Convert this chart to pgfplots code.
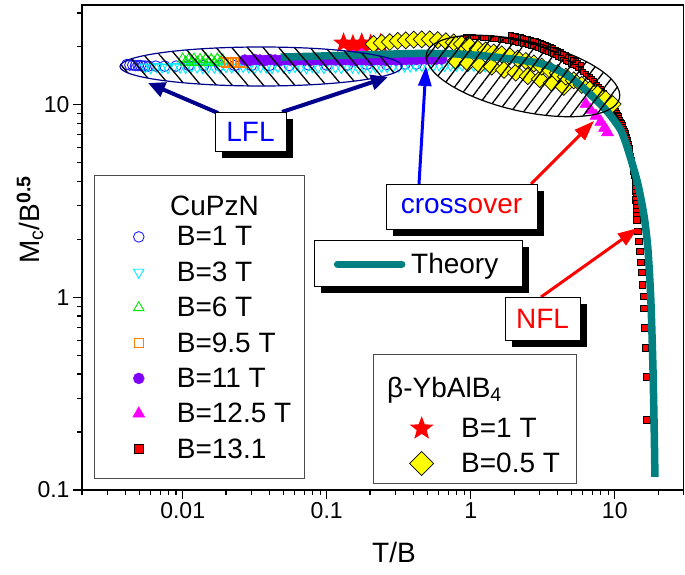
\documentclass[border=0pt]{standalone}
\usepackage{pgfplots}
\pgfplotsset{compat=1.18}
\usepackage{fontspec}
\setmainfont{Liberation Sans}
\usetikzlibrary{patterns.meta,arrows.meta}

\definecolor{thteal}{RGB}{0,128,128}
\definecolor{lflnavy}{RGB}{0,0,140}
\definecolor{cblue}{RGB}{30,30,255}
\definecolor{ccyan}{RGB}{0,235,255}
\definecolor{cgreen}{RGB}{0,230,0}
\definecolor{corange}{RGB}{255,128,0}
\definecolor{cpurple}{RGB}{128,0,255}
\definecolor{cmag}{RGB}{255,0,255}
\definecolor{cyel}{RGB}{255,255,0}

\pgfdeclareplotmark{fivestar}{%
  \pgfpathmoveto{\pgfpointpolar{90}{\pgfplotmarksize}}%
  \pgfpathlineto{\pgfpointpolar{126}{0.42\pgfplotmarksize}}%
  \pgfpathlineto{\pgfpointpolar{162}{\pgfplotmarksize}}%
  \pgfpathlineto{\pgfpointpolar{198}{0.42\pgfplotmarksize}}%
  \pgfpathlineto{\pgfpointpolar{234}{\pgfplotmarksize}}%
  \pgfpathlineto{\pgfpointpolar{270}{0.42\pgfplotmarksize}}%
  \pgfpathlineto{\pgfpointpolar{306}{\pgfplotmarksize}}%
  \pgfpathlineto{\pgfpointpolar{342}{0.42\pgfplotmarksize}}%
  \pgfpathlineto{\pgfpointpolar{18}{\pgfplotmarksize}}%
  \pgfpathlineto{\pgfpointpolar{54}{0.42\pgfplotmarksize}}%
  \pgfpathclose
  \pgfusepathqfill
}

\begin{document}
\begin{tikzpicture}
\begin{axis}[scale only axis, width=601.5pt, height=485pt,
  xmode=log, ymode=log, xmin=0.002, xmax=30, ymin=0.1, ymax=33,
  at={(0pt,0pt)}, anchor=south west,
  clip marker paths=true,
  axis line style={line width=1.3pt},
  tick style={line width=1.2pt, black},
  tick align=outside, tick pos=left,
  major tick length=9pt, minor tick length=5pt,
  xtick={0.01,0.1,1,10}, xticklabels={0.01,0.1,1,10},
  ytick={0.1,1,10}, yticklabels={0.1,1,10},
  minor xtick={0.002,0.003,0.004,0.005,0.006,0.007,0.008,0.009,0.02,0.03,0.04,0.05,0.06,0.07,0.08,0.09,0.2,0.3,0.4,0.5,0.6,0.7,0.8,0.9,2,3,4,5,6,7,8,9,20,30},
  minor ytick={0.2,0.3,0.4,0.5,0.6,0.7,0.8,0.9,2,3,4,5,6,7,8,9,20,30},
  ticklabel style={font=\fontsize{23}{26}\selectfont},
  xlabel={T/B}, ylabel={M\textsubscript{c}/B\textsuperscript{\textbf{0.5}}},
  label style={font=\fontsize{28}{32}\selectfont},
  xlabel style={at={(axis description cs:0.5187,-0.1278)}, anchor=center},
  ylabel style={at={(axis description cs:-0.0865,0.557)}, anchor=center},
  legend cell align=left,
  legend style={at={(0.0840,0.5478)}, anchor=north west, draw=none, fill=none,
    inner xsep=0pt, inner ysep=0pt, font=\fontsize{28}{33}\selectfont,
    row sep=10.4pt, column sep=29pt, nodes={inner xsep=3pt, inner ysep=2pt}},
]
% B = 1 T (CuPzN)
\addplot[only marks, mark=o, mark size=5.3pt, cblue, line width=0.9pt, forget plot] coordinates {
(0.0041,16.2)(0.0043,16.1)(0.0045,16.1)(0.0047,16.0)(0.0049,16.0)(0.0051,16.0)(0.0053,15.9)(0.0055,15.9)(0.0058,15.9)(0.0065,15.9)(0.0075,15.9)(0.009,15.9)(0.011,16.0)(0.014,16.0)(0.018,16.0)(0.023,16.0)(0.03,16.0)(0.04,16.0)(0.055,16.0)(0.075,16.1)(0.1,16.1)(0.14,16.1)(0.19,16.2)(0.26,16.2)(0.35,16.3)(0.42,16.3)};
% B = 3 T
\addplot[only marks, mark=triangle, mark size=6pt, mark options={rotate=180}, ccyan, line width=0.9pt, forget plot] coordinates {
(0.0055,15.7)(0.0060,15.6)(0.0066,15.8)(0.0072,15.7)(0.0079,15.6)(0.0087,15.8)(0.0096,15.7)(0.0105,15.6)(0.0115,15.8)(0.0126,15.7)(0.0138,15.6)(0.0151,15.8)(0.0166,15.7)(0.0182,15.6)(0.0200,15.8)(0.0219,15.7)(0.0240,15.6)(0.0263,15.8)(0.0288,15.7)(0.0316,15.6)(0.0347,15.8)(0.0380,15.7)(0.0417,15.6)(0.0457,15.8)(0.0501,15.7)(0.0550,15.6)(0.0603,15.8)(0.0661,15.7)(0.0724,15.6)(0.0794,15.8)(0.0871,15.7)(0.0955,15.6)(0.105,15.8)(0.115,15.7)(0.126,15.6)(0.138,15.8)(0.151,15.7)(0.166,15.6)(0.182,15.8)(0.200,15.7)(0.219,15.7)(0.240,15.8)(0.263,15.8)(0.288,15.8)(0.316,15.9)(0.347,15.9)(0.380,15.9)(0.417,16.0)(0.457,16.0)(0.501,16.0)(0.550,16.0)(0.603,16.1)(0.661,16.0)(0.724,16.1)(0.794,16.0)(0.871,16.1)(0.955,16.0)(1.05,16.0)(1.15,15.9)(1.26,15.9)(1.38,15.8)};
% B = 6 T
\addplot[only marks, mark=triangle, mark size=6pt, cgreen, line width=0.9pt, forget plot] coordinates {
(0.0100,17.3)(0.0105,16.7)(0.0110,17.2)(0.0115,16.6)(0.0120,17.3)(0.0126,16.7)(0.0132,17.2)(0.0138,16.6)(0.0145,17.3)(0.0151,16.7)(0.0158,17.2)(0.0166,16.6)(0.0174,17.3)(0.0182,16.7)(0.0190,17.1)};
% B = 9.5 T
\addplot[only marks, mark=square, mark size=4.5pt, corange, line width=0.9pt, forget plot] coordinates {
(0.0192,16.8)(0.0200,16.5)(0.0209,16.8)(0.0219,16.5)(0.0229,16.8)(0.0240,16.5)(0.0251,16.8)(0.0263,16.6)};
% B = 11 T
\addplot[only marks, mark=*, mark size=5.5pt, cpurple, forget plot] coordinates {
(0.0270,17.1)(0.0293,17.0)(0.0317,17.2)(0.0344,17.1)(0.0373,17.0)(0.0404,17.2)(0.0438,17.1)(0.0475,17.0)(0.0515,17.2)(0.0558,17.1)(0.0605,17.0)(0.0656,17.2)(0.0711,17.1)(0.0771,17.0)(0.0836,17.2)(0.0906,17.1)(0.0982,17.0)(0.1065,17.2)(0.1154,17.1)(0.1251,17.0)(0.1356,17.2)(0.1470,17.1)(0.1594,17.0)(0.1728,17.2)(0.1873,17.1)(0.2030,17.0)(0.2201,17.2)(0.2386,17.1)(0.2586,17.0)(0.2803,17.2)(0.3039,17.1)(0.3294,17.1)(0.3571,17.2)(0.3871,17.2)(0.4196,17.2)(0.4548,17.3)(0.4930,17.3)(0.5344,17.3)(0.5793,17.3)(0.628,17.3)};
% B = 12.5 T
\addplot[only marks, mark=triangle*, mark size=7pt, cmag, forget plot] coordinates {
(0.16,19.6)(0.175,19.4)(6.3,10.1)(6.8,9.4)(7.4,8.76)(8.0,8.16)(8.5,7.6)(8.9,7.2)};
% B = 13.1 T (dense crossover part)
\addplot[only marks, mark=square*, mark size=2.4pt, mark options={fill=red, draw=black, line width=1pt}, forget plot] coordinates {
(1.9,23.0)(1.98,22.9)(2.05,22.8)(2.13,22.65)(2.22,22.5)(2.31,22.3)(2.41,22.1)(2.51,21.95)(2.61,21.8)(2.72,21.6)(2.83,21.4)(2.94,21.15)(3.06,20.9)(3.19,20.7)(3.32,20.5)(3.45,20.25)(3.59,20.0)(3.74,19.7)(3.89,19.4)(4.05,19.1)(4.22,18.8)(4.39,18.45)(4.57,18.1)(4.76,17.8)(4.95,17.5)(5.15,17.2)(5.36,16.9)(5.58,16.55)(5.81,16.2)
(0.923,22.6)(0.96,22.55)(1.00,22.5)(1.04,22.45)(1.083,22.4)(1.13,22.37)(1.17,22.35)(1.22,22.32)(1.271,22.3)(1.32,22.2)(1.38,22.15)(1.43,22.07)(1.49,22.0)(1.55,21.9)(1.62,21.8)(1.68,21.7)(1.75,21.6)(1.82,21.5)(1.90,21.4)(1.97,21.3)(2.05,21.2)(2.13,21.05)(2.22,20.9)(2.31,20.75)(2.41,20.6)(2.51,20.45)(2.61,20.3)(2.72,20.1)(2.83,19.9)(2.94,19.7)(3.06,19.5)(3.19,19.3)(3.32,19.1)(3.45,18.85)(3.59,18.6)(3.74,18.35)(3.89,18.1)(4.05,17.8)(4.22,17.5)(4.39,17.2)(4.57,16.9)(4.76,16.6)(4.95,16.3)(5.15,16.05)(5.36,15.8)(5.58,15.45)(5.81,15.1)(6.05,14.8)(6.29,14.5)(6.5,14.2)(6.71,13.9)(6.93,13.6)(7.15,13.3)(7.35,13.0)(7.55,12.7)(7.78,12.4)(8.00,12.1)(8.20,11.8)(8.40,11.5)(8.60,11.25)(8.80,11.0)(8.98,10.75)(9.15,10.5)(9.34,10.3)(9.53,10.1)(9.69,9.9)(9.85,9.7)(10.0,9.5)(10.2,9.31)(10.35,9.1)(10.5,8.92)(10.65,8.74)(10.8,8.56)(10.95,8.38)(11.1,8.20)(11.25,8.03)(11.4,7.87)(11.5,7.68)(11.65,7.50)(11.78,7.32)(11.9,7.15)(12.0,7.0)(12.1,6.85)(12.2,6.71)(12.3,6.58)(12.4,6.43)(12.5,6.28)(12.6,6.13)(12.7,5.98)(12.85,5.70)(13.0,5.43)(13.1,5.18)(13.2,4.94)(13.3,4.71)(13.4,4.49)(13.55,4.28)(13.7,4.08)(13.75,3.89)(13.8,3.71)(13.9,3.53)(14.0,3.37)};
% B = 13.1 T (remaining points)
\addplot[only marks, mark=square*, mark size=3.3pt, mark options={fill=red, draw=black, line width=0.8pt}, forget plot] coordinates {
(14.05,3.21)(14.1,3.06)(14.15,2.92)(14.2,2.78)(14.25,2.65)(14.3,2.53)(14.5,2.20)(14.7,1.95)(15.0,1.73)(15.2,1.52)(15.5,1.35)(15.6,1.16)(15.9,1.01)(16.0,0.879)(16.2,0.697)(16.3,0.545)(16.6,0.388)(16.7,0.231)};
% beta-YbAlB4, B = 1 T
\addplot[only marks, mark=fivestar, mark size=11pt, red, mark options={fill=red}, forget plot] coordinates {
(0.131,20.9)(0.152,20.5)(0.175,20.9)(0.202,20.6)(0.237,20.8)};
% beta-YbAlB4, B = 0.5 T (lower branch, then upper branch)
\addplot[only marks, mark=square*, mark size=6pt, mark options={rotate=45, fill=cyel, draw=black, line width=0.7pt}, forget plot] coordinates {
(0.787,16.9)(0.953,16.5)(1.155,16.1)(1.40,15.8)(1.70,15.2)(2.05,14.7)(2.49,14.1)(3.01,13.6)(3.65,13.0)(4.42,12.4)};
\addplot[only marks, mark=square*, mark size=6pt, mark options={rotate=45, fill=cyel, draw=black, line width=0.7pt}, forget plot] coordinates {
(0.212,20.7)(0.241,21.0)(0.274,21.2)(0.311,21.5)(0.354,21.6)(0.402,21.8)(0.457,21.9)(0.519,21.9)(0.590,21.7)(0.671,21.4)(0.762,21.1)(0.866,20.7)(0.984,20.2)(1.118,19.6)(1.271,19.2)(1.444,18.7)(1.642,18.3)(1.866,17.9)(2.12,17.4)(2.41,16.9)(2.74,16.4)(3.11,15.8)(3.54,15.2)(4.02,14.6)(4.57,14.0)(5.19,13.4)(5.90,12.7)(6.71,12.0)(7.62,11.4)(8.66,10.7)(9.68,10.1)};
% Theory
\addplot[thteal, line width=7.5pt, smooth, tension=0.4, forget plot] coordinates {
(0.048,17.7)(0.11,18.0)(0.24,18.3)(0.45,18.5)(0.76,18.4)(1.1,18.1)(1.6,17.6)(2.2,17.1)(2.8,16.6)(3.4,16.0)(4.2,14.9)(5.2,13.5)(6.8,11.3)(8.9,9.2)(11.0,7.4)(12.4,5.8)(14.4,3.94)(16.0,2.63)(17.0,1.77)(17.8,0.97)(18.4,0.437)(18.8,0.198)(19.0,0.117)};
% legend (CuPzN)
\addlegendimage{only marks, mark=o, mark size=5.3pt, cblue, line width=0.9pt}\addlegendentry{B=1 T}
\addlegendimage{only marks, mark=triangle, mark size=6pt, mark options={rotate=180}, ccyan, line width=0.9pt}\addlegendentry{B=3 T}
\addlegendimage{only marks, mark=triangle, mark size=6pt, cgreen, line width=0.9pt}\addlegendentry{B=6 T}
\addlegendimage{only marks, mark=square, mark size=4.5pt, corange, line width=0.9pt}\addlegendentry{B=9.5 T}
\addlegendimage{only marks, mark=*, mark size=5.5pt, cpurple}\addlegendentry{B=11 T}
\addlegendimage{only marks, mark=triangle*, mark size=7pt, cmag}\addlegendentry{B=12.5 T}
\addlegendimage{only marks, mark=square*, mark size=4.5pt, mark options={fill=red, draw=black, line width=0.7pt}}\addlegendentry{B=13.1}
\end{axis}

% hatched ellipses (canvas coordinates, 1pt = 1px of the reference)
\path[draw=lflnavy, line width=1.2pt, pattern={Lines[angle=-50,distance=12pt,line width=1.3pt]}, pattern color=black]
  (179pt,423.5pt) ellipse [x radius=141pt, y radius=19.5pt];
\path[draw=black, line width=1.2pt, pattern={Lines[angle=53,distance=10pt,line width=1.3pt]}, pattern color=black]
  \pgfextra{\pgfpathellipse{\pgfpoint{441pt}{414pt}}{\pgfpointpolar{-13}{99pt}}{\pgfpointpolar{77}{35pt}}};

\begin{scope}[x=1pt, y=-1pt, shift={(-82pt,490pt)}]
  % arrows
  \draw[lflnavy, line width=4pt, -{Triangle[length=17pt,width=15pt]}] (218,113) -- (148,83);
  \draw[lflnavy, line width=4pt, -{Triangle[length=17pt,width=15pt]}] (282,112) -- (388,77);
  \draw[blue, line width=3pt, -{Triangle[length=20pt,width=13pt]}] (419,184) -- (426,66);
  \draw[red, line width=3pt, -{Triangle[length=20pt,width=14pt]}] (531,184) -- (594,121);
  \draw[red, line width=3pt, -{Triangle[length=20pt,width=14pt]}] (541,297) -- (638,228);
  % LFL box
  \fill[black] (222,119) rectangle (293,158);
  \draw[line width=0.8pt, fill=white] (215,112) rectangle (286,151);
  \node[font=\fontsize{28}{32}\selectfont, text=blue] at (250.5,131.5) {LFL};
  % crossover box
  \fill[black] (393,191) rectangle (544,236);
  \draw[line width=0.8pt, fill=white] (386,184) rectangle (537,229);
  \node[font=\fontsize{28}{32}\selectfont] at (461.5,206.5) {\textcolor{blue}{cross}\textcolor{red}{over}};
  % Theory box
  \fill[black] (321,247) rectangle (529,293);
  \draw[line width=0.8pt, fill=white] (314,240) rectangle (522,286);
  % NFL box
  \fill[black] (512,304) rectangle (587,347);
  \draw[line width=0.8pt, fill=white] (505,297) rectangle (580,340);
  \node[font=\fontsize{28}{32}\selectfont, text=red] at (542.5,318.5) {NFL};
  % legend frames and titles
  \draw[line width=0.9pt, black!70] (94,175) rectangle (304,478);
  \node[anchor=base west, inner sep=0pt, font=\fontsize{28}{33}\selectfont] at (170,215) {CuPzN};
  \draw[line width=0.9pt, black!70, fill=white] (373,354) rectangle (576,483);
  \node[anchor=base west, inner sep=0pt, font=\fontsize{28}{33}\selectfont] at (387,397) {β-YbAlB\textsubscript{4}};
\end{scope}

% beta-YbAlB4 legend
\begin{axis}[scale only axis, width=601.5pt, height=485pt,
  xmode=log, ymode=log, xmin=0.002, xmax=30, ymin=0.1, ymax=33,
  at={(0pt,0pt)}, anchor=south west, hide axis,
  legend cell align=left,
  legend style={at={(0.5444,0.1528)}, anchor=north west, draw=none, fill=none,
    inner xsep=0pt, inner ysep=0pt, font=\fontsize{28}{33}\selectfont,
    row sep=10pt, column sep=24.5pt, nodes={inner xsep=3pt, inner ysep=2pt}},
]
\addlegendimage{only marks, mark=fivestar, mark size=12.5pt, red, mark options={fill=red}}\addlegendentry{B=1 T}
\addlegendimage{only marks, mark=square*, mark size=8.5pt, mark options={rotate=45, fill=cyel, draw=black, line width=0.7pt}}\addlegendentry{B=0.5 T}
\end{axis}

% Theory legend
\begin{axis}[scale only axis, width=601.5pt, height=485pt,
  xmode=log, ymode=log, xmin=0.002, xmax=30, ymin=0.1, ymax=33,
  at={(0pt,0pt)}, anchor=south west, hide axis,
  legend cell align=left,
  legend image code/.code={\draw[#1] (0pt,0pt) -- (64.5pt,0pt);},
  legend style={at={(0.4185,0.4928)}, anchor=north west, draw=none, fill=none,
    inner xsep=0pt, inner ysep=0pt, font=\fontsize{28}{33}\selectfont,
    column sep=2.75pt, nodes={inner xsep=3pt, inner ysep=2pt}},
]
\addlegendimage{thteal, line width=7pt, line cap=round}\addlegendentry{Theory}
\end{axis}

\pgfresetboundingbox
\path (-82pt,-84pt) rectangle (603pt,490pt);
\end{tikzpicture}
\end{document}
